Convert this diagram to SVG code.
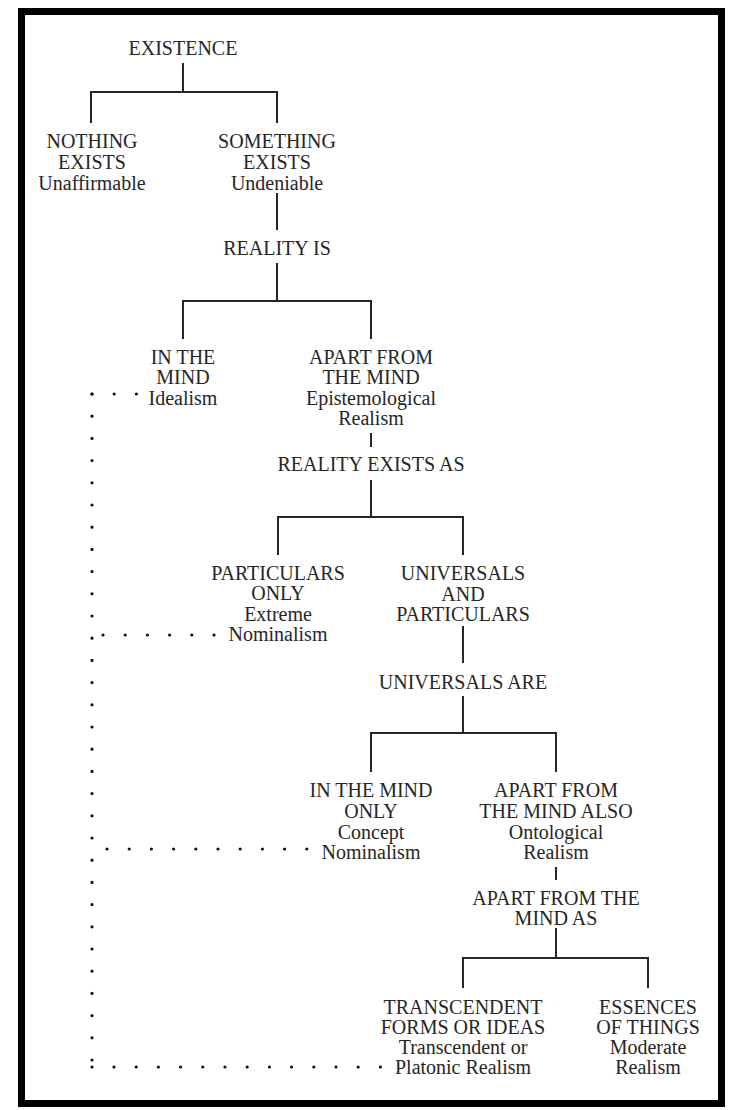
<svg xmlns="http://www.w3.org/2000/svg" width="731" height="1110" viewBox="0 0 731 1110">
<style>
text{font-family:"Liberation Serif","Times New Roman",serif;font-size:20px;fill:#262626;text-anchor:middle}
.ln{stroke:#262626;stroke-width:2;fill:none}
.dot{stroke:#111;stroke-width:3.2;stroke-linecap:round;stroke-dasharray:0 22.2;fill:none}
</style>
<rect x="0" y="0" width="731" height="1110" fill="#fff"/>
<rect x="21.5" y="11.5" width="700" height="1092" fill="#fff" stroke="#000" stroke-width="7"/>
<g id="connectors">
<path class="ln" d="M183 63V92M91 123V92H277V123"/>
<path class="ln" d="M277 193V230M277 263V301M183 339V301H371V339"/>
<path class="ln" d="M371 433V447M371 480V517M278 555V517H463V555"/>
<path class="ln" d="M463 626V663M463 696V733M371 772V733H556V772"/>
<path class="ln" d="M556 867V880M556 928V958M463 988V958H648V988"/>
<g id="dotted">
<path class="dot" d="M92 394V1061"/>
<path class="dot" d="M92 1067V1068"/>
<path class="dot" d="M92 394H137"/>
<path class="dot" d="M103 635H215"/>
<path class="dot" d="M107 849H308"/>
<path class="dot" d="M114 1067H381"/>
</g>
</g>
<g id="existence"><text x="183" y="55">EXISTENCE</text></g>
<g id="nothing"><text x="92" y="148">NOTHING</text><text x="92" y="169">EXISTS</text><text x="92" y="190">Unaffirmable</text></g>
<g id="something"><text x="277" y="148">SOMETHING</text><text x="277" y="169">EXISTS</text><text x="277" y="190">Undeniable</text></g>
<g id="reality-is"><text x="277" y="255">REALITY IS</text></g>
<g id="in-the-mind"><text x="183" y="364">IN THE</text><text x="183" y="384">MIND</text><text x="183" y="405">Idealism</text></g>
<g id="apart-from-mind"><text x="371" y="364">APART FROM</text><text x="371" y="384">THE MIND</text><text x="371" y="405">Epistemological</text><text x="371" y="425">Realism</text></g>
<g id="reality-exists-as"><text x="371" y="471">REALITY EXISTS AS</text></g>
<g id="particulars"><text x="278" y="580">PARTICULARS</text><text x="278" y="600">ONLY</text><text x="278" y="621">Extreme</text><text x="278" y="641">Nominalism</text></g>
<g id="universals-particulars"><text x="463" y="580">UNIVERSALS</text><text x="463" y="601">AND</text><text x="463" y="621">PARTICULARS</text></g>
<g id="universals-are"><text x="463" y="689">UNIVERSALS ARE</text></g>
<g id="mind-only"><text x="371" y="797">IN THE MIND</text><text x="371" y="818">ONLY</text><text x="371" y="839">Concept</text><text x="371" y="859">Nominalism</text></g>
<g id="mind-also"><text x="556" y="797">APART FROM</text><text x="556" y="818">THE MIND ALSO</text><text x="556" y="839">Ontological</text><text x="556" y="859">Realism</text></g>
<g id="apart-as"><text x="556" y="905">APART FROM THE</text><text x="556" y="925">MIND AS</text></g>
<g id="transcendent"><text x="463" y="1014">TRANSCENDENT</text><text x="463" y="1034">FORMS OR IDEAS</text><text x="463" y="1054">Transcendent or</text><text x="463" y="1074">Platonic Realism</text></g>
<g id="essences"><text x="648" y="1014">ESSENCES</text><text x="648" y="1034">OF THINGS</text><text x="648" y="1054">Moderate</text><text x="648" y="1074">Realism</text></g>
</svg>
